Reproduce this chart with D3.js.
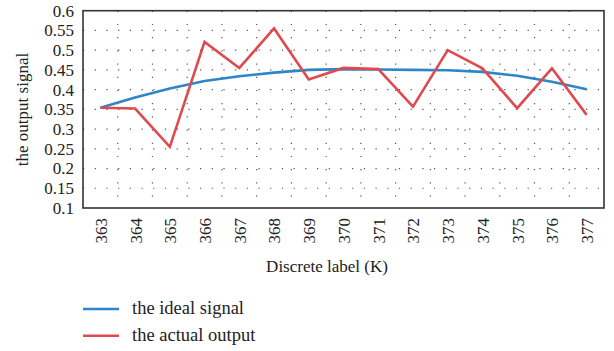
<!DOCTYPE html>
<html><head><meta charset="utf-8">
<script src="https://cdn.jsdelivr.net/npm/d3@7"></script>
<style>body{margin:0;background:#fff}svg{display:block}
svg text{font-family:"Liberation Serif","DejaVu Serif",serif !important;}</style>
</head><body><svg id="c" width="614" height="351"></svg>
<script>
const categories = ["363","364","365","366","367","368","369","370","371","372","373","374","375","376","377"];
const idealSignal = [0.354,0.380,0.403,0.422,0.434,0.443,0.450,0.452,0.451,0.450,0.449,0.445,0.435,0.420,0.401];
const actualOutput = [0.354,0.352,0.255,0.521,0.455,0.555,0.426,0.455,0.452,0.357,0.500,0.454,0.353,0.454,0.336];
const yTicks = [0.1,0.15,0.2,0.25,0.3,0.35,0.4,0.45,0.5,0.55,0.6];
const seriesNames = ["the ideal signal","the actual output"];
const colors = ["#2e86c7","#e04a4f"];

const fs = 17;
const svg = d3.select("#c");
const L=83, R=604, T=10.7, B=208;
const x = d3.scalePoint().domain(categories).range([L,R]).padding(0.5);
const band = d3.scaleBand().domain(categories).range([L,R]);
const y = d3.scaleLinear().domain([0.1,0.6]).range([B,T]);

// grid
svg.append("g").selectAll("line").data(yTicks.slice(1,-1)).join("line")
  .attr("x1",L).attr("x2",R).attr("y1",d=>y(d)).attr("y2",d=>y(d))
  .attr("stroke","#555").attr("stroke-width",1.2).attr("stroke-dasharray","1.2,10.5");
svg.append("g").selectAll("line").data(categories.slice(1)).join("line")
  .attr("x1",d=>band(d)).attr("x2",d=>band(d)).attr("y1",T).attr("y2",B)
  .attr("stroke","#555").attr("stroke-width",1.2).attr("stroke-dasharray","1.2,12");

// frame
svg.append("rect").attr("x",L).attr("y",T).attr("width",R-L).attr("height",B-T)
  .attr("fill","none").attr("stroke","#333").attr("stroke-width",1.6);

// y axis
const ya = svg.append("g").attr("transform",`translate(${L},0)`)
  .call(d3.axisLeft(y).tickValues(yTicks).tickSize(0).tickPadding(9).tickFormat(d=>String(+d.toFixed(2))));
ya.select(".domain").remove();
ya.selectAll("text").attr("font-size",fs).attr("fill","#222");

// x axis
const xa = svg.append("g").attr("transform",`translate(0,${B})`)
  .call(d3.axisBottom(x).tickSize(0));
xa.select(".domain").remove();
xa.selectAll("text").attr("font-size",fs).attr("fill","#222")
  .attr("transform","rotate(-90)").attr("text-anchor","end").attr("dy","0.35em").attr("dx","-10").attr("y",0).attr("x",0);

// titles
svg.append("text").attr("x",327).attr("y",272).attr("text-anchor","middle")
  .attr("font-size",fs).attr("fill","#222").text("Discrete label (K)");
svg.append("text").attr("transform","translate(28,109.5) rotate(-90)").attr("text-anchor","middle")
  .attr("font-size",fs).attr("fill","#222").text("the output signal");

// lines
const line = d3.line().x((d,i)=>x(categories[i])).y(d=>y(d));
[idealSignal, actualOutput].forEach((s,k)=>{
  svg.append("path").attr("d",line(s)).attr("fill","none").attr("stroke",colors[k])
    .attr("stroke-width",2.6).attr("stroke-linejoin","miter");
});

// legend
seriesNames.forEach((n,k)=>{
  const yy = 309 + k*26.7;
  svg.append("line").attr("x1",83).attr("x2",119).attr("y1",yy).attr("y2",yy)
    .attr("stroke",colors[k]).attr("stroke-width",2.6);
  svg.append("text").attr("x",132).attr("y",yy+5).attr("font-size",18.5)
    .attr("fill","#222").text(n);
});
</script></body></html>
